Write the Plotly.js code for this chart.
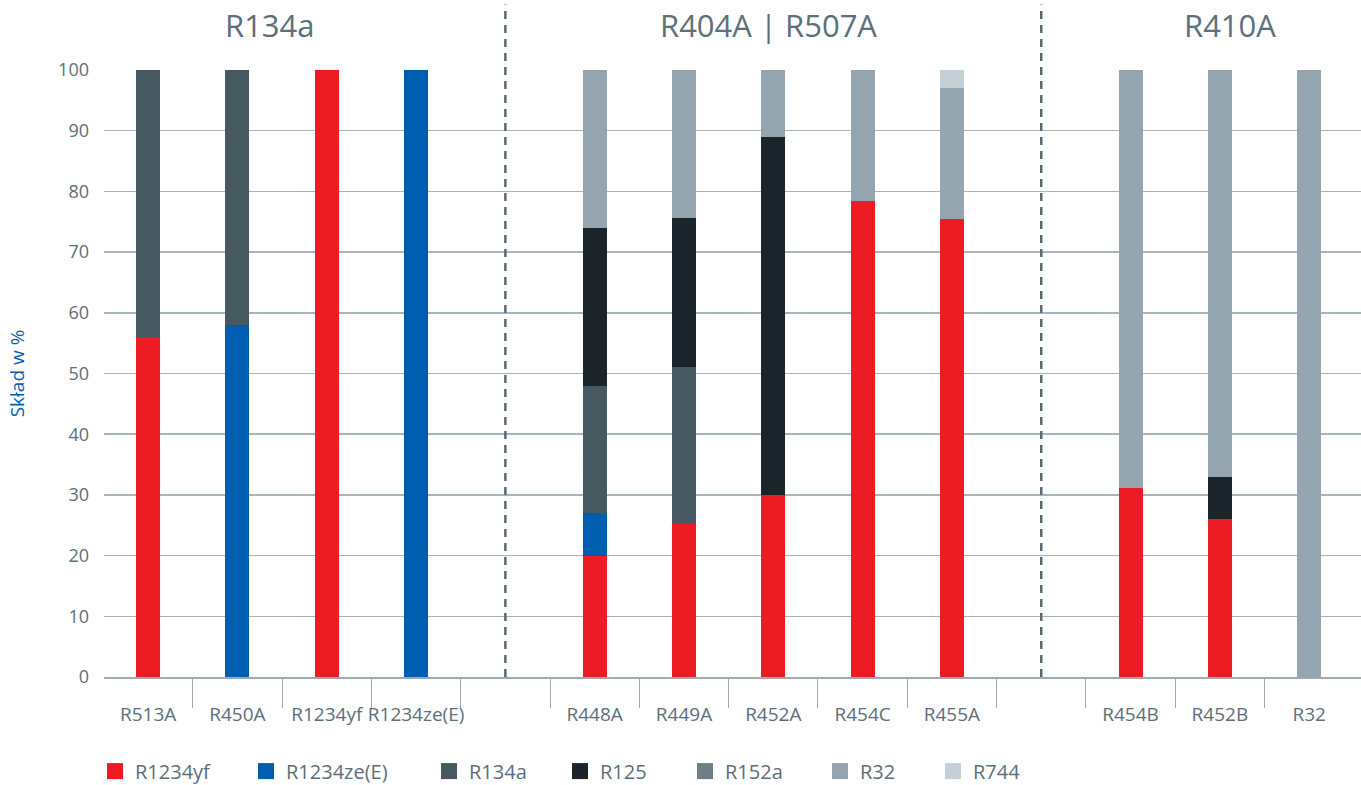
<!DOCTYPE html>
<html>
<head>
<meta charset="utf-8">
<script src="https://cdn.plot.ly/plotly-3.0.1.min.js"></script>
<style>html,body{margin:0;padding:0;background:#fff;}#chart{width:1361px;height:785px;}</style>
</head>
<body>
<div id="chart"></div>
<script>
// ---- data ----
const categories = ["R513A","R450A","R1234yf","R1234ze(E)","","R448A","R449A","R452A","R454C","R455A","","R454B","R452B","R32"];
const groupTitles = ["R134a","R404A | R507A","R410A"];
const seriesNames = ["R1234yf","R1234ze(E)","R134a","R125","R152a","R32","R744"];
const r1234yf  = [56, 0, 100, 0, null, 20, 25.3, 30, 78.5, 75.5, null, 31.1, 26, 0];
const r1234ze  = [0, 58, 0, 100, null, 7, 0, 0, 0, 0, null, 0, 0, 0];
const r134a    = [44, 42, 0, 0, null, 21, 25.7, 0, 0, 0, null, 0, 0, 0];
const r125     = [0, 0, 0, 0, null, 26, 24.7, 59, 0, 0, null, 0, 7, 0];
const r152a    = [0, 0, 0, 0, null, 0, 0, 0, 0, 0, null, 0, 0, 0];
const r32      = [0, 0, 0, 0, null, 26, 24.3, 11, 21.5, 21.5, null, 68.9, 67, 100];
const r744     = [0, 0, 0, 0, null, 0, 0, 0, 0, 3, null, 0, 0, 0];
const yTicks = [0,10,20,30,40,50,60,70,80,90,100];

// ---- styles ----
const seriesValues = [r1234yf, r1234ze, r134a, r125, r152a, r32, r744];
const colors = ["#ED1C24","#005EB0","#465961","#1A242A","#6E7E87","#95A5AF","#C5D0D6"];
const txt = "#5c6f7b";
const FONT = "Open Sans, sans-serif";

const idx = categories.map((c,i)=>i);
const labelIdx = idx.filter(i=>categories[i] !== "");
const gapIdx = idx.filter(i=>categories[i] === "");
const boundaries = idx.slice(0,-1).map(i=>i+0.5);

const traces = [];
seriesNames.forEach((name,k)=>{
  traces.push({
    type:"bar", name:name, x:idx, y:seriesValues[k],
    marker:{color:colors[k], line:{width:0}}, width:0.27,
    showlegend:false, legendgroup:name, hovertemplate:name+": %{y}%<extra></extra>"
  });
});
// legend entries (square swatches), each in its own legend box
const legendCenters = [115, 266, 449, 580, 705, 840, 953];
const legendLayouts = {};
seriesNames.forEach((name,k)=>{
  const key = k===0 ? "legend" : "legend"+(k+1);
  traces.push({
    type:"scatter", mode:"markers", name:name, x:[null], y:[null], xaxis:"x2",
    marker:{symbol:"square", size:16, color:colors[k]},
    legend:key, legendgroup:name, showlegend:true, hoverinfo:"skip"
  });
  legendLayouts[key] = {
    x:(legendCenters[k]-20-104)/1257, xanchor:"left",
    y:-0.155, yanchor:"middle", orientation:"h",
    bgcolor:"rgba(0,0,0,0)", borderwidth:0,
    font:{family:FONT, size:20, color:txt}
  };
});

const xr = [-0.494, 13.58];
const layout = Object.assign({
  width:1361, height:785,
  margin:{l:104, r:0, t:70, b:108, autoexpand:false},
  paper_bgcolor:"#fff", plot_bgcolor:"#fff",
  barmode:"stack",
  font:{family:FONT, color:txt},
  xaxis:{type:"linear", range:xr, tickvals:labelIdx, ticktext:labelIdx.map(i=>categories[i]),
    ticks:"", showgrid:false, zeroline:false, showline:true, linecolor:"#9eabb3", linewidth:1.5,
    tickangle:0, tickfont:{family:FONT, size:19, color:txt}, ticklabelstandoff:20, fixedrange:true},
  xaxis2:{type:"linear", overlaying:"x", anchor:"y", side:"bottom", range:xr, tickvals:boundaries,
    ticks:"outside", ticklen:30, tickwidth:1, tickcolor:"#9eabb3", showticklabels:false,
    showgrid:false, zeroline:false, showline:false, fixedrange:true},
  yaxis:{range:[0,100], tickvals:yTicks, showgrid:true, gridcolor:"#a9b5bc", gridwidth:1.5,
    zeroline:false, showline:false, ticks:"", tickfont:{family:FONT, size:18, color:txt},
    ticklabelstandoff:14, fixedrange:true,
    title:{text:"Skład w %", font:{family:FONT, size:19, color:"#005EB0"}, standoff:28}},
  shapes: gapIdx.map(g=>({type:"line", xref:"x", yref:"paper", x0:g, x1:g, y0:0, y1:1.108,
    line:{color:"#5a6a73", width:2.5, dash:"8px,6px"}})),
  annotations: groupTitles.map((t,j)=>({
    text:t, xref:"x", yref:"paper", x:[1.36, 6.95, 12.11][j], y:1.074,
    xanchor:"center", yanchor:"middle", showarrow:false,
    font:{family:FONT, size:31, color:txt}
  }))
}, legendLayouts);

Plotly.newPlot("chart", traces, layout, {displayModeBar:false, staticPlot:true});
</script>
</body>
</html>
